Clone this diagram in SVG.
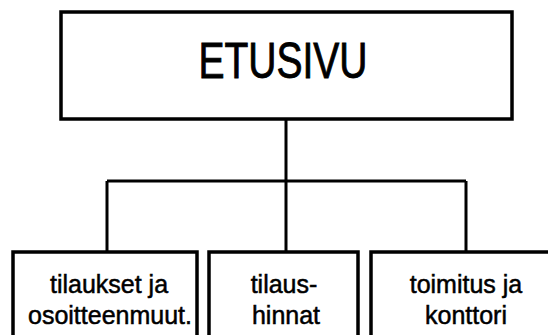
<svg xmlns="http://www.w3.org/2000/svg" width="548" height="335" viewBox="0 0 548 335">
<style>
.box{fill:#fff;stroke:#000;stroke-width:3.5}
.con{fill:none;stroke:#000;stroke-width:3}
.t{font-family:"Liberation Sans",Arial,sans-serif;fill:#000;stroke:#000;text-anchor:middle}
.big{font-size:50px;stroke-width:0.9}
.sm{font-size:25px;stroke-width:0.5}
</style>
<rect width="548" height="335" fill="#fff"/>
<g id="connectors">
<path class="con" d="M286 119V181M107 181H466M107 181V252M286 181V252M466 181V252"/>
</g>
<g id="etusivu">
<rect class="box" x="61" y="12" width="451" height="107"/>
<text class="t big" x="283" y="78" textLength="169" lengthAdjust="spacingAndGlyphs">ETUSIVU</text>
</g>
<g id="tilaukset">
<rect class="box" x="13" y="252" width="184" height="95"/>
<text class="t sm" x="109" y="293">tilaukset ja</text>
<text class="t sm" x="110" y="324">osoitteenmuut.</text>
</g>
<g id="tilaushinnat">
<rect class="box" x="209" y="252" width="149" height="95"/>
<text class="t sm" x="284" y="293">tilaus-</text>
<text class="t sm" x="286" y="324">hinnat</text>
</g>
<g id="toimitus">
<rect class="box" x="371" y="252" width="190" height="95"/>
<text class="t sm" x="466" y="293">toimitus ja</text>
<text class="t sm" x="466" y="324">konttori</text>
</g>
</svg>
